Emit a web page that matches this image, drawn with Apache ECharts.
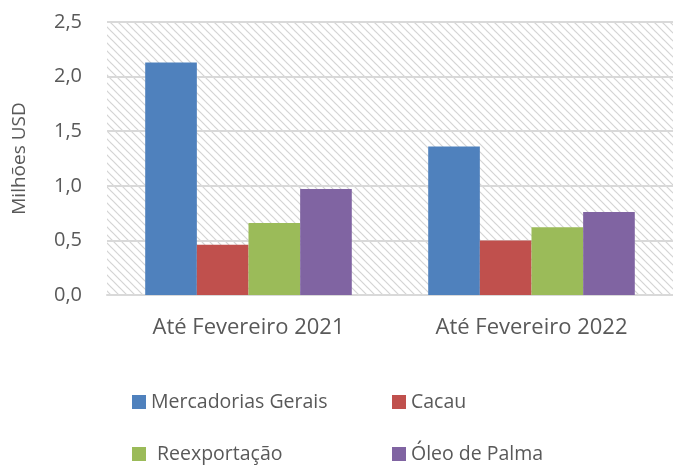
<!DOCTYPE html>
<html><head><meta charset="utf-8">
<script src="https://cdn.jsdelivr.net/npm/echarts@6/dist/echarts.min.js"></script>
<style>html,body{margin:0;padding:0;background:#fff}#c{width:673px;height:466px}</style>
</head><body><div id="c"></div>
<script>
var categories = ['Até Fevereiro 2021', 'Até Fevereiro 2022'];
var seriesNames = ['Mercadorias Gerais', 'Cacau', 'Reexportação', 'Óleo de Palma'];
var mercadorias = [2.13, 1.36];
var cacau = [0.46, 0.50];
var reexportacao = [0.66, 0.62];
var oleo = [0.97, 0.76];
var colors = ['#4f81bd', '#c0504d', '#9bbb59', '#8064a2'];

var pc = document.createElement('canvas');
pc.width = 8; pc.height = 8;
var g = pc.getContext('2d');
g.fillStyle = '#ffffff'; g.fillRect(0,0,8,8);
g.strokeStyle = '#d4d4d4'; g.lineWidth = 1.2;
g.beginPath(); g.moveTo(-1,-1); g.lineTo(9,9); g.stroke();
g.beginPath(); g.moveTo(-1,7); g.lineTo(1,9); g.stroke();
g.beginPath(); g.moveTo(7,-1); g.lineTo(9,1); g.stroke();

var font = '"Open Sans", "Noto Sans", sans-serif';
var dataArr = [mercadorias, cacau, reexportacao, oleo];
var series = seriesNames.map(function(n, i){
  return {name: n, type: 'bar', data: dataArr[i], barGap: '0%', barCategoryGap: '27%',
    itemStyle: {color: colors[i]}};
});
var legendPos = [[127, 387], [387, 387], [127, 439], [387, 439]];
var legends = seriesNames.map(function(n, i){
  return {data: [n], left: legendPos[i][0], top: legendPos[i][1], itemWidth: 14, itemHeight: 14,
    icon: 'rect', itemGap: 0,
    textStyle: {fontFamily: font, fontSize: 19.5, color: '#595959', padding: [0,0,0, i===2 ? 6 : 0]},
    selectedMode: false};
});
var chart = echarts.init(document.getElementById('c'));
chart.setOption({
  animation: false,
  color: colors,
  legend: legends,
  grid: {left: 107, right: 0, top: 22, height: 273, show: true, borderWidth: 0,
    backgroundColor: {image: pc, repeat: 'repeat'}},
  xAxis: {type: 'category', data: categories,
    axisLine: {lineStyle: {color: '#d9d9d9', width: 2}},
    axisTick: {show: false},
    axisLabel: {fontFamily: font, fontSize: 22, color: '#595959', margin: 22}},
  yAxis: {type: 'value', min: 0, max: 2.5, interval: 0.5,
    name: 'Milhões USD', nameLocation: 'middle', nameGap: 78, nameRotate: 90,
    nameTextStyle: {fontFamily: font, fontSize: 19, color: '#595959'},
    axisLine: {show: false}, axisTick: {show: false},
    splitLine: {lineStyle: {color: '#d9d9d9', width: 2}},
    axisLabel: {fontFamily: font, fontSize: 20, color: '#595959', margin: 25,
      formatter: function(v){ return v.toFixed(1).replace('.', ','); }}},
  series: series
});
</script></body></html>
